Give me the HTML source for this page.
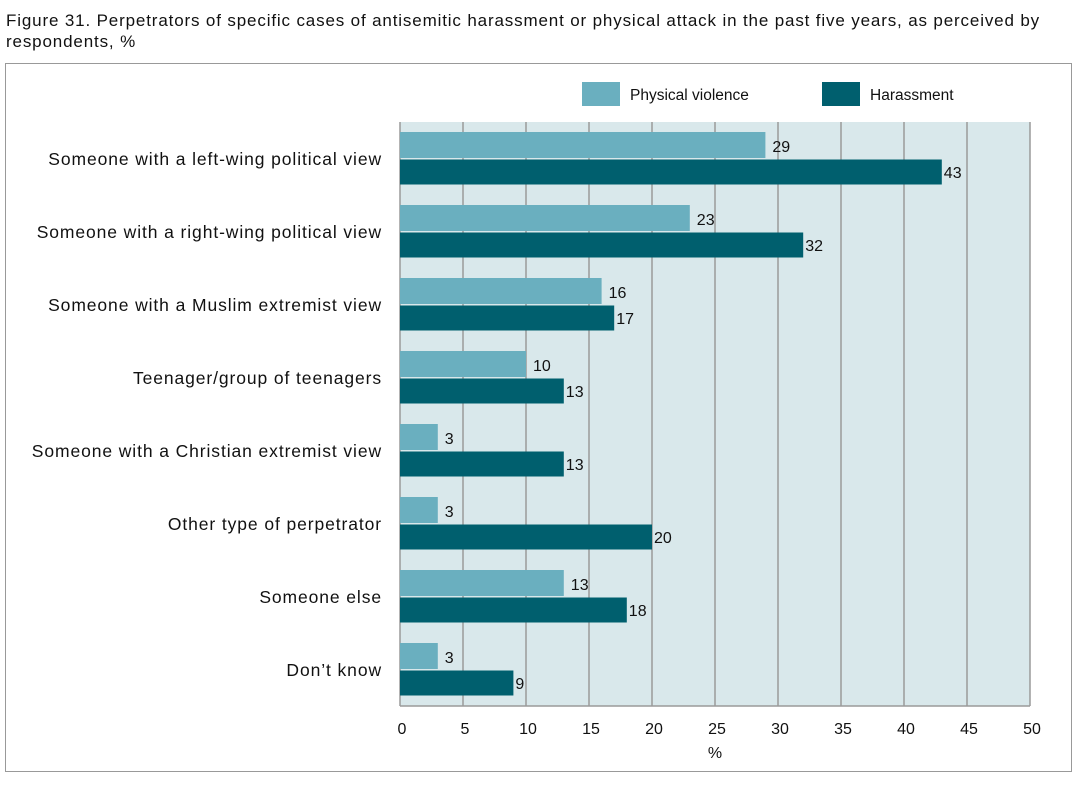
<!DOCTYPE html>
<html><head><meta charset="utf-8"><style>
body{margin:0;background:#fff;width:1079px;height:795px;overflow:hidden;font-family:"Liberation Sans",sans-serif;}
</style></head><body>
<svg width="1079" height="795" style="font-family:'Liberation Sans',sans-serif">
<text x="6" y="26" font-size="17" letter-spacing="0.85" fill="#111">Figure 31. Perpetrators of specific cases of antisemitic harassment or physical attack in the past five years, as perceived by</text>
<text x="6" y="47" font-size="17" letter-spacing="0.85" fill="#111">respondents, %</text>
<rect x="5.5" y="63.5" width="1066" height="708" fill="none" stroke="#999"/>
<rect x="582" y="82" width="38" height="24" fill="#6aafbf"/>
<text x="630" y="100" font-size="15.5" fill="#111">Physical violence</text>
<rect x="822" y="82" width="38" height="24" fill="#005f6e"/>
<text x="870" y="100" font-size="15.5" fill="#111">Harassment</text>
<g id="plot"></g>
</svg>
<script>
const categories=["Someone with a left-wing political view","Someone with a right-wing political view","Someone with a Muslim extremist view","Teenager/group of teenagers","Someone with a Christian extremist view","Other type of perpetrator","Someone else","Don’t know"];
const physical=[29,23,16,10,3,3,13,3];
const harassment=[43,32,17,13,13,20,18,9];
const ticks=[0,5,10,15,20,25,30,35,40,45,50];
const ns="http://www.w3.org/2000/svg";
const g=document.getElementById('plot');
const X0=400,X1=1030,Y0=122,Y1=706,MAX=50;
const x=v=>X0+(X1-X0)*v/MAX;
const rowY=i=>132+73*i;
function mk(t,a){const e=document.createElementNS(ns,t);for(const k in a)e.setAttribute(k,a[k]);g.appendChild(e);return e;}
let bg=mk('rect',{x:X0,y:Y0,width:X1-X0,height:Y1-Y0,fill:'#d9e8eb'});


ticks.forEach(t=>{
 let l=mk('line',{x1:x(t),x2:x(t),y1:Y0,y2:Y1,stroke:'#9a9a9a','stroke-width':1.5});
 
 
 let tx=mk('text',{x:x(t)+2,y:734,'font-size':16,fill:'#111','text-anchor':'middle'});
 tx.textContent=t;
 
 
});
let ax=mk('line',{x1:X0,x2:X1,y1:Y1,y2:Y1,stroke:'#9a9a9a','stroke-width':1.5});


let xt=mk('text',{x:715,y:758,'font-size':16,fill:'#111','text-anchor':'middle'});
xt.textContent='%';


categories.forEach((c,i)=>{
 const y=rowY(i);
 let lb=mk('text',{x:382,y:y+33,'font-size':17.5,'letter-spacing':0.9,fill:'#111','text-anchor':'end'});
 lb.textContent=c;
 
 
 let b1=mk('rect',{x:X0,y:y,width:x(physical[i])-X0,height:26,fill:'#6aafbf'});
 
 
 let v1=mk('text',{x:x(physical[i])+7,y:y+20,'font-size':16,fill:'#111'});
 v1.textContent=physical[i];
 
 
 let b2=mk('rect',{x:X0,y:y+27.5,width:x(harassment[i])-X0,height:25,fill:'#005f6e'});
 
 
 let v2=mk('text',{x:x(harassment[i])+2,y:y+46,'font-size':16,fill:'#111'});
 v2.textContent=harassment[i];
 
 
});
</script>
</body></html>
